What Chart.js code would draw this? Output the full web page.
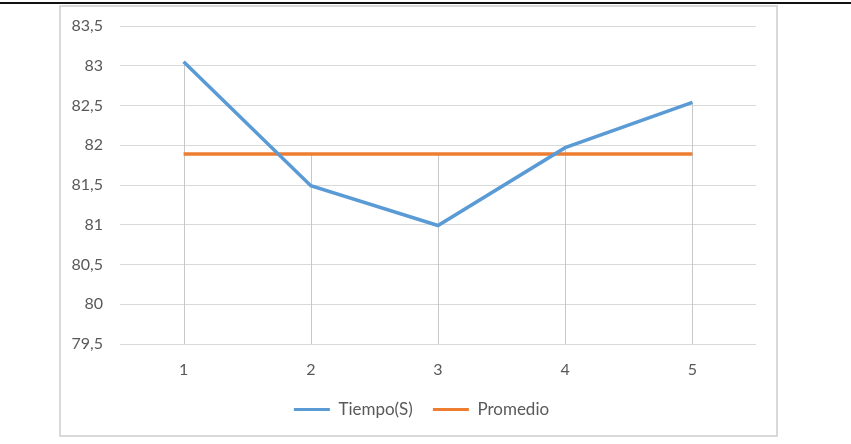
<!DOCTYPE html>
<html>
<head>
<meta charset="utf-8">
<script src="https://cdn.jsdelivr.net/npm/chart.js@4.4.1/dist/chart.umd.min.js"></script>
<style>
    html, body { margin: 0; padding: 0; background: #fff; }
    body { width: 851px; height: 444px; position: relative; overflow: hidden; }
    .topRule { position: absolute; left: 0; top: 2px; width: 851px; height: 2px; background: #111; }
    .frame { position: absolute; left: 59px; top: 5px; width: 715px; height: 428px; border: 2px solid #d9d9d9; }
    canvas { display: block; }
</style>
</head>
<body>
<div class="topRule"></div>
<div class="frame"><canvas id="tiempoChart" width="715" height="428"></canvas></div>
<script>
    const categories = ['1', '2', '3', '4', '5'];
    const tiempoValues = [83.05, 81.49, 80.99, 81.97, 82.54];
    const promedioValues = [81.89, 81.89, 81.89, 81.89, 81.89];
    const yTicks = [79.5, 80, 80.5, 81, 81.5, 82, 82.5, 83, 83.5];

    const fontFamily = 'Lato, "Open Sans", sans-serif';
    const textColor = '#595959';

    // lineas de caida (drop lines) desde el punto más alto hasta el eje
    const dropLines = {
        id: 'dropLines',
        beforeDatasetsDraw(chart) {
            const ctx = chart.ctx;
            const yScale = chart.scales.y;
            const xScale = chart.scales.x;
            const bottom = chart.chartArea.bottom;
            ctx.save();
            ctx.strokeStyle = '#c8c8c8';
            ctx.lineWidth = 1;
            categories.forEach((c, i) => {
                const top = Math.max(tiempoValues[i], promedioValues[i]);
                const x = Math.round(xScale.getPixelForValue(i)) + 0.5;
                ctx.beginPath();
                ctx.moveTo(x, yScale.getPixelForValue(top));
                ctx.lineTo(x, bottom);
                ctx.stroke();
            });
            ctx.restore();
        }
    };

    // leyenda un poco a la derecha, como en el original
    const legendShift = {
        id: 'legendShift',
        afterLayout(chart) {
            if (chart.legend) chart.legend.left += 26;
        }
    };

    const ctx = document.getElementById('tiempoChart').getContext('2d');
    const tiempoChart = new Chart(ctx, {
        type: 'line',
        data: {
            labels: categories,
            datasets: [{
                label: 'Tiempo(S)',
                data: tiempoValues,
                borderColor: '#5b9bd5',
                backgroundColor: '#5b9bd5',
                borderWidth: 3.5,
                pointRadius: 0,
                tension: 0
            }, {
                label: 'Promedio',
                data: promedioValues,
                borderColor: '#ed7d31',
                backgroundColor: '#ed7d31',
                borderWidth: 3.5,
                pointRadius: 0,
                tension: 0
            }]
        },
        options: {
            responsive: false,
            animation: false,
            layout: { padding: { top: 19, right: 20, left: 0, bottom: 7 } },
            scales: {
                x: {
                    offset: true,
                    grid: { display: false },
                    border: { display: false },
                    ticks: { color: textColor, font: { family: fontFamily, size: 16 }, padding: 8 },
                    afterFit(scale) { scale.height = 37; }
                },
                y: {
                    min: 79.5,
                    max: 83.5,
                    afterBuildTicks(scale) { scale.ticks = yTicks.map(v => ({ value: v })); },
                    grid: { color: '#d9d9d9', lineWidth: 1, drawTicks: false },
                    border: { display: false },
                    ticks: {
                        color: textColor,
                        font: { family: fontFamily, size: 16 },
                        padding: 17,
                        callback: v => String(v).replace('.', ',')
                    },
                    afterFit(scale) {
                        scale.width = 59;
                        scale.paddingTop = 0;
                        scale.paddingBottom = 0;
                    }
                }
            },
            plugins: {
                tooltip: { enabled: false },
                legend: {
                    position: 'bottom',
                    labels: {
                        color: textColor,
                        font: { family: fontFamily, size: 17 },
                        boxWidth: 36,
                        boxHeight: 3,
                        padding: 20,
                        generateLabels(chart) {
                            return chart.data.datasets.map((ds, i) => ({
                                text: ds.label,
                                fillStyle: ds.borderColor,
                                strokeStyle: ds.borderColor,
                                lineWidth: 0,
                                fontColor: textColor,
                                datasetIndex: i
                            }));
                        }
                    }
                }
            }
        },
        plugins: [dropLines, legendShift]
    });
</script>
</body>
</html>
